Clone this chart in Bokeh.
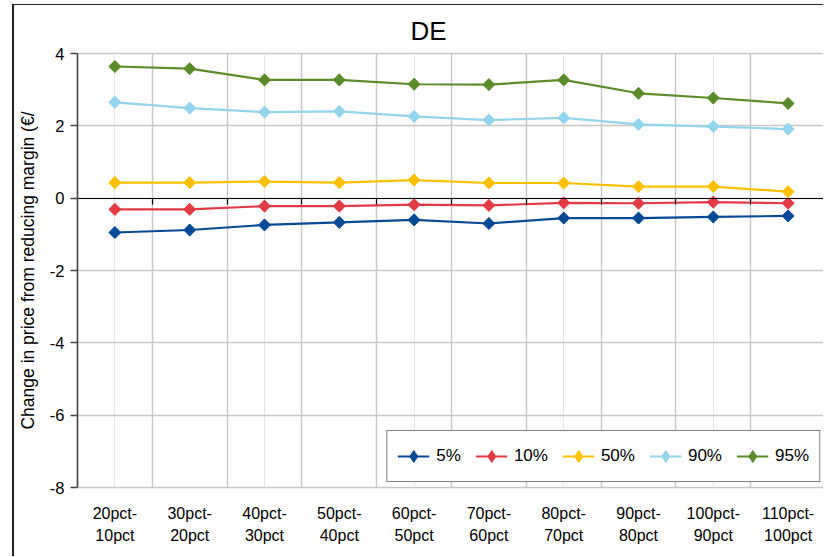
from bokeh.plotting import figure
from bokeh.models import (FixedTicker, LinearAxis, Legend, LegendItem, Grid, Range1d)
from bokeh.embed import file_html
from bokeh.resources import INLINE

# ---- data ----
categories = ["20pct-\n10pct", "30pct-\n20pct", "40pct-\n30pct", "50pct-\n40pct", "60pct-\n50pct",
              "70pct-\n60pct", "80pct-\n70pct", "90pct-\n80pct", "100pct-\n90pct", "110pct-\n100pct"]
p5 = [-0.95, -0.88, -0.74, -0.67, -0.60, -0.70, -0.55, -0.55, -0.52, -0.49]
p10 = [-0.31, -0.31, -0.22, -0.22, -0.18, -0.20, -0.13, -0.14, -0.11, -0.14]
p50 = [0.43, 0.43, 0.46, 0.43, 0.50, 0.42, 0.42, 0.32, 0.32, 0.18]
p90 = [2.65, 2.49, 2.38, 2.40, 2.26, 2.16, 2.22, 2.04, 1.98, 1.91]
p95 = [3.64, 3.58, 3.27, 3.27, 3.15, 3.14, 3.27, 2.90, 2.77, 2.62]
series_names = ["5%", "10%", "50%", "90%", "95%"]
y_ticks = [-8, -6, -4, -2, 0, 2, 4]
y_tick_labels = ["-8", "-6", "-4", "-2", "0", "2", "4"]

colors = ["#064a97", "#e23b45", "#ffc000", "#92d5ec", "#5b8c2a"]
FONT = "Liberation Sans"
TEXT = "#000000"

x = list(range(len(categories)))

p = figure(width=811, height=552, output_backend="svg", toolbar_location=None,
           x_range=Range1d(-0.5, len(categories) - 0.5), y_range=Range1d(-8, 4),
           min_border_left=61, min_border_right=0, min_border_top=47, min_border_bottom=70,
           x_axis_location=None, y_axis_location=None,
           styles={"margin-left": "12px", "margin-top": "4px",
                   "border-left": "2px solid #222222", "border-top": "1px solid #222222"})
p.outline_line_color = "#c8c8c8"
p.outline_line_width = 1.5
p.background_fill_color = "white"
p.border_fill_color = "white"

# title
p.title.text = "DE"
p.title.align = "left"
p.title.text_font = FONT
p.title.text_font_size = "26px"
p.title.text_font_style = "normal"
p.title.text_color = TEXT
p.title.offset = 333
p.title.standoff = 16

# y axis
yax = LinearAxis(ticker=FixedTicker(ticks=y_ticks))
yax.major_label_overrides = {v: s for v, s in zip(y_ticks, y_tick_labels)}
yax.axis_label = "Change in price from reducing margin (€/"
yax.axis_label_text_font = FONT
yax.axis_label_text_font_size = "17.5px"
yax.axis_label_text_font_style = "normal"
yax.axis_label_text_color = TEXT
yax.axis_label_standoff = 9
yax.major_label_text_font = FONT
yax.major_label_text_font_size = "16.5px"
yax.major_label_text_color = TEXT
yax.major_label_standoff = 6
yax.major_tick_out = 7
yax.major_tick_in = 0
yax.minor_tick_out = 0
yax.axis_line_color = "#444444"
yax.axis_line_width = 1.5
yax.major_tick_line_color = "#444444"
yax.major_tick_line_width = 1.5
p.add_layout(yax, "left")

# x axis: labels only, below
xax = LinearAxis(ticker=FixedTicker(ticks=x))
xax.major_label_overrides = {i: c for i, c in zip(x, categories)}
xax.major_label_text_font = FONT
xax.major_label_text_font_size = "16px"
xax.major_label_text_color = TEXT
xax.major_label_text_line_height = 1.3
xax.major_label_standoff = 17
xax.major_tick_out = 0
xax.major_tick_in = 0
xax.minor_tick_out = 0
xax.axis_line_color = None
p.add_layout(xax, "below")

# zero line axis with tick marks at category boundaries
bounds = [i + 0.5 for i in x[:-1]]
zax = LinearAxis(ticker=FixedTicker(ticks=bounds), fixed_location=0)
zax.major_label_text_font_size = "0px"
zax.major_label_text_color = None
zax.major_tick_out = 6
zax.major_tick_in = 0
zax.minor_tick_out = 0
zax.axis_line_color = "black"
zax.axis_line_width = 1.2
zax.major_tick_line_color = "black"
zax.major_tick_line_width = 1.2
p.add_layout(zax, "below")

# grids
p.add_layout(Grid(dimension=1, ticker=FixedTicker(ticks=y_ticks), grid_line_color="#c8c8c8", grid_line_width=1.5))
p.add_layout(Grid(dimension=0, ticker=FixedTicker(ticks=bounds), grid_line_color="#c8c8c8", grid_line_width=1.5))

items = []
for name, vals, col in zip(series_names, [p5, p10, p50, p90, p95], colors):
    l = p.line(x, vals, line_color=col, line_width=2.2)
    # diamond glyph (used for the legend), covered by the rotated square markers
    d = p.scatter(x, vals, marker="diamond", size=11, fill_color=col, line_color=col)
    p.scatter(x, vals, marker="square", angle=0.785398, size=8.5, fill_color=col, line_color=col)
    items.append(LegendItem(label=name, renderers=[l, d]))

legend = Legend(items=items, orientation="horizontal", location="bottom_right",
                margin=5, padding=10, spacing=14, glyph_width=32, glyph_height=30,
                label_standoff=7, label_text_font=FONT, label_text_font_size="17px",
                label_text_color=TEXT,
                border_line_color="black", border_line_width=1.5, background_fill_alpha=1.0)
p.add_layout(legend, "center")

open("out.html", "w").write(file_html(p, INLINE))
